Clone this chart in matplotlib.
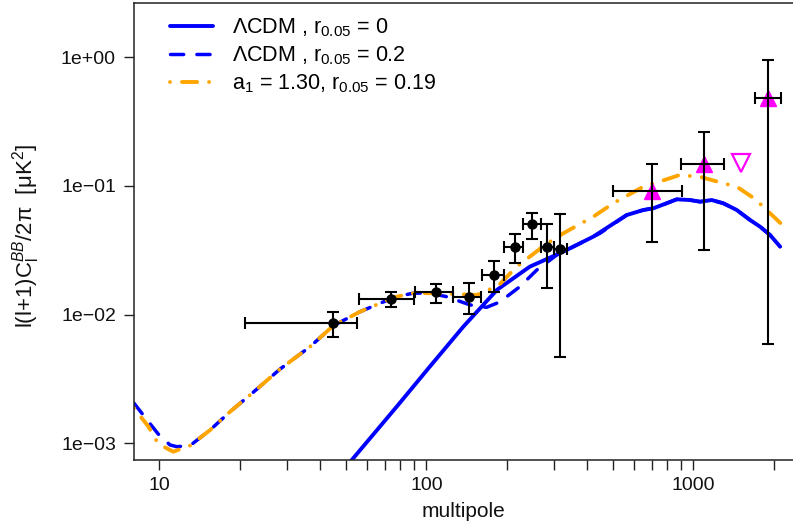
import matplotlib
matplotlib.use("Agg")
import matplotlib.pyplot as plt
from matplotlib.ticker import FixedLocator, FixedFormatter, NullFormatter
import numpy as np

plt.rcParams['font.family'] = ['Liberation Sans', 'DejaVu Sans']
plt.rcParams['mathtext.fontset'] = 'custom'
plt.rcParams['mathtext.rm'] = 'Liberation Sans'
plt.rcParams['mathtext.it'] = 'Liberation Sans:italic'
plt.rcParams['lines.scale_dashes'] = False

# LCDM, r = 0 (lensing B-modes)
ell_lcdm = [40, 52.6, 77.5, 103, 137.6, 184, 244, 326, 422, 563, 650, 708,
            794, 867, 972, 1059, 1172, 1295, 1454, 1631, 1778, 1938, 2113]
cl_lcdm = [3.8e-4, 7.43e-4, 1.93e-3, 3.94e-3, 8.07e-3, 1.56e-2, 2.36e-2,
           3.09e-2, 4.04e-2, 5.95e-2, 6.51e-2, 6.71e-2, 7.34e-2, 7.88e-2,
           7.78e-2, 7.55e-2, 7.78e-2, 7.34e-2, 6.51e-2, 5.44e-2, 4.83e-2,
           4.16e-2, 3.38e-2]

# LCDM, r = 0.2
ell_r02 = [8.04, 9.10, 9.91, 10.96, 11.62, 13.03, 15.5, 18.4, 21.9, 28.3,
           36.7, 44.8, 56.5, 67.1, 77.5, 89.4, 103, 119, 146, 168, 184, 200,
           224, 259, 308, 366, 447, 563, 650, 708, 794, 867, 972, 1059, 1172,
           1295, 1454, 1631, 1778, 1938, 2113]
cl_r02 = [2.05e-3, 1.475e-3, 1.18e-3, 9.72e-4, 9.42e-4, 9.6e-4, 1.27e-3,
          1.76e-3, 2.38e-3, 3.77e-3, 5.64e-3, 8.2e-3, 1.055e-2, 1.227e-2,
          1.38e-2, 1.47e-2, 1.47e-2, 1.38e-2, 1.19e-2, 1.14e-2, 1.23e-2,
          1.38e-2, 1.65e-2, 2.22e-2, 2.91e-2, 3.48e-2, 4.29e-2, 5.95e-2,
          6.51e-2, 6.71e-2, 7.34e-2, 7.88e-2, 7.78e-2, 7.55e-2, 7.78e-2,
          7.34e-2, 6.51e-2, 5.44e-2, 4.83e-2, 4.16e-2, 3.38e-2]

# a1 = 1.30, r = 0.19
ell_a1 = [8.04, 9.10, 9.91, 11.28, 13.03, 15.5, 18.4, 21.9, 28.3, 36.7, 44.8,
          56.5, 67.1, 77.5, 89.4, 103, 125, 154, 186, 218, 238, 278, 326, 361,
          422, 501, 650, 818, 891, 1075, 1295, 1454, 1702, 1938, 2143]
cl_a1 = [1.88e-3, 1.35e-3, 9.9e-4, 8.61e-4, 9.6e-4, 1.27e-3, 1.76e-3, 2.38e-3,
         3.77e-3, 5.64e-3, 8.2e-3, 1.055e-2, 1.227e-2, 1.38e-2, 1.47e-2,
         1.47e-2, 1.45e-2, 1.42e-2, 1.68e-2, 2.36e-2, 2.71e-2, 3.48e-2,
         4.29e-2, 4.83e-2, 5.77e-2, 7.34e-2, 9.88e-2, 0.115, 0.122, 0.117,
         0.105, 9.88e-2, 7.93e-2, 6.14e-2, 5.04e-2]

# Black data points (bandpowers)
pts_ell = [44.8, 73.6, 109, 144, 179, 214, 249, 283, 317]
pts_ell_lo = [20.9, 56.0, 90.8, 126, 161, 196, 231, 268, 300]
pts_ell_hi = [54.8, 89.9, 125.6, 160, 196, 231, 268, 300, 336]
pts_cl = [8.67e-3, 1.324e-2, 1.493e-2, 1.38e-2, 2.05e-2, 3.36e-2, 5.07e-2,
          3.34e-2, 3.24e-2]
pts_cl_lo = [6.71e-3, 1.153e-2, 1.24e-2, 1.01e-2, 1.50e-2, 2.52e-2, 3.90e-2,
             1.60e-2, 4.72e-3]
pts_cl_hi = [1.044e-2, 1.50e-2, 1.74e-2, 1.75e-2, 2.61e-2, 4.21e-2, 6.17e-2,
             5.09e-2, 6.03e-2]

# Magenta triangles
tri_ell = [702, 1099, 1910]
tri_ell_lo = [502, 903, 1706]
tri_ell_hi = [905, 1307, 2124]
tri_cl = [9.14e-2, 0.148, 0.485]
tri_cl_lo = [3.65e-2, 3.20e-2, 5.89e-3]
tri_cl_hi = [0.148, 0.263, 0.953]

# Upper limit
ul_ell = [1510]
ul_cl = [0.150]

x_major = [10, 100, 1000]
x_major_labels = ['10', '100', '1000']
x_minor = [20, 30, 40, 50, 60, 70, 80, 90, 200, 300, 400, 500, 600, 700, 800,
           900, 2000]
y_major = [1e-3, 1e-2, 1e-1, 1]
y_major_labels = ['1e\u221203', '1e\u221202', '1e\u221201', '1e+00']

fig = plt.figure(figsize=(7.93, 5.25), dpi=100)
ax = fig.add_axes([0.169, 0.1238, 0.831, 0.871])

# Curves
ax.plot(ell_lcdm, cl_lcdm, color='#0000FF', lw=2.8, solid_capstyle='round',
        label='\u039bCDM , r$_\\mathregular{0.05}$ = 0')
ax.plot(ell_r02, cl_r02, color='#0000FF', lw=2.5, dashes=(9.5, 9.5),
        dash_capstyle='round',
        label='\u039bCDM , r$_\\mathregular{0.05}$ = 0.2')
ax.plot(ell_a1, cl_a1, color='#FFA500', lw=2.8, dashes=(0.01, 8.6, 10.9, 8.6),
        dash_capstyle='round',
        label='a$_\\mathregular{1}$ = 1.30, r$_\\mathregular{0.05}$ = 0.19')

# Triangles
ax.plot(tri_ell, tri_cl, linestyle='none', marker='^', ms=12,
        color='#FF00FF', mec='#FF00FF')
ax.plot(ul_ell, ul_cl, linestyle='none', marker='v', ms=13, mfc='none',
        mec='#FF00FF', mew=1.6)

tri_xerr = [np.subtract(tri_ell, tri_ell_lo), np.subtract(tri_ell_hi, tri_ell)]
tri_yerr = [np.subtract(tri_cl, tri_cl_lo), np.subtract(tri_cl_hi, tri_cl)]
ax.errorbar(tri_ell, tri_cl, xerr=tri_xerr, yerr=tri_yerr, fmt='none',
            ecolor='black', elinewidth=1.5, capsize=4, capthick=1.5)

# Black points
pts_xerr = [np.subtract(pts_ell, pts_ell_lo), np.subtract(pts_ell_hi, pts_ell)]
pts_yerr = [np.subtract(pts_cl, pts_cl_lo), np.subtract(pts_cl_hi, pts_cl)]
ax.errorbar(pts_ell, pts_cl, xerr=pts_xerr, yerr=pts_yerr, fmt='o', ms=6.5,
            color='black', ecolor='black', elinewidth=1.5, capsize=4,
            capthick=1.5)

ax.set_xscale('log')
ax.set_yscale('log')
ax.set_xlim(8.04, 2362)
ax.set_ylim(7.42e-4, 2.657)

ax.xaxis.set_major_locator(FixedLocator(x_major))
ax.xaxis.set_major_formatter(FixedFormatter(x_major_labels))
ax.xaxis.set_minor_locator(FixedLocator(x_minor))
ax.xaxis.set_minor_formatter(NullFormatter())
ax.yaxis.set_major_locator(FixedLocator(y_major))
ax.yaxis.set_major_formatter(FixedFormatter(y_major_labels))
ax.yaxis.set_minor_locator(FixedLocator([]))

ax.tick_params(which='both', direction='out', length=7, width=1,
               color='#222222', labelsize=14, labelcolor='#111111')
ax.tick_params(axis='x', pad=5)
ax.tick_params(axis='y', pad=6)

for side in ['left', 'bottom', 'top']:
    ax.spines[side].set_linewidth(1.1)
    ax.spines[side].set_color('#222222')
ax.spines['right'].set_visible(False)

ax.set_xlabel('multipole', fontsize=15, color='#111111', labelpad=6)
ax.set_ylabel('l(l+1)C$_\\mathregular{l}^{BB}$/2\u03c0  [\u03bcK$^\\mathregular{2}$]',
              fontsize=16, color='#111111')
ax.yaxis.set_label_coords(-0.14, 0.49)

ax.legend(loc='upper left', bbox_to_anchor=(0.025, 1.012), frameon=False,
          fontsize=15.5, handlelength=2.0, handletextpad=0.88,
          labelspacing=0.24, borderpad=0.4)

fig.savefig('out.png', dpi=100)
